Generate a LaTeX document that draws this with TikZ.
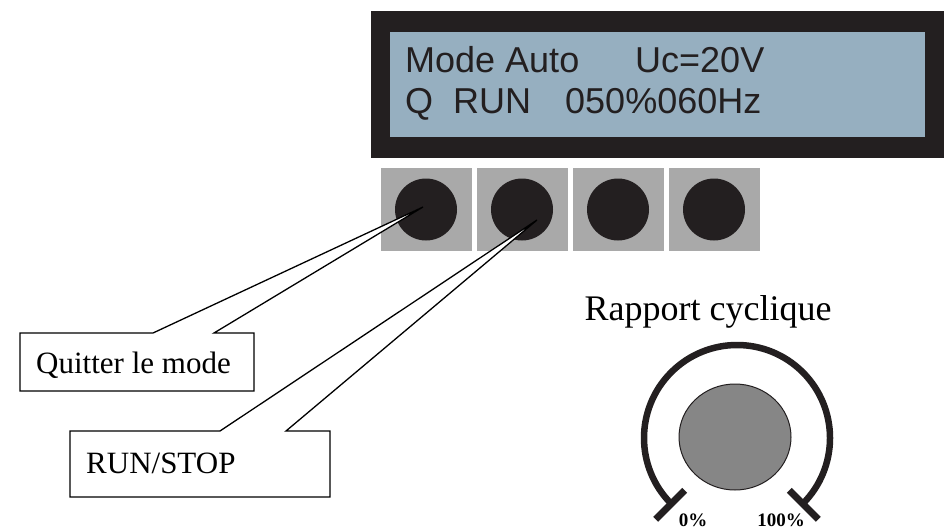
\documentclass[tikz,border=0pt]{standalone}
\usepackage{fontspec}
\setmainfont{Liberation Serif}
\newfontfamily\lcdfont{Liberation Sans}
\usetikzlibrary{positioning,calc,shapes.geometric}

\definecolor{lcdblack}{RGB}{35,31,32}
\definecolor{lcdblue}{RGB}{150,175,192}
\definecolor{keygrey}{RGB}{169,169,169}
\definecolor{knobgrey}{RGB}{134,134,134}

\tikzset{
  lcdtxt/.style={anchor=base west, inner sep=0pt, text=lcdblack,
    font=\lcdfont\fontsize{36}{36}\selectfont},
  keypad/.style={fill=keygrey, minimum width=91pt, minimum height=83pt, inner sep=0pt},
  keyknob/.style={circle, fill=lcdblack, minimum size=62pt, inner sep=0pt},
  callout/.style={draw=black, fill=white, line width=1.3pt, line join=miter},
  calltxt/.style={anchor=base west, inner sep=0pt, font=\fontsize{31}{31}\selectfont},
  pcttxt/.style={anchor=base, inner sep=0pt, font=\bfseries\fontsize{19}{19}\selectfont},
}

\begin{document}
\begin{tikzpicture}[x=1pt, y=-1pt]
  \useasboundingbox (0,0) rectangle (944,530);

  % afficheur LCD
  \fill[lcdblack] (371,11) rectangle (944,158);
  \fill[lcdblue] (390,32) rectangle (925,137);
  \node[lcdtxt] (mode) at (405,72) {Mode Auto};
  \node[lcdtxt] (uc) at (635,72) {Uc=20V};
  \node[lcdtxt] (q) at (405,113) {Q};
  \node[lcdtxt] (run) at (453,113) {RUN};
  \node[lcdtxt] (freq) at (565,113) {050\%060Hz};

  % boutons
  \foreach \i in {1,...,4} {
    \node[keypad] (pad\i) at (330+96*\i, 209.5) {};
    \node[keyknob] (key\i) at (pad\i) {};
  }

  % bulles
  \coordinate (tipq) at ($(key1)+(-3,-2.5)$);
  \coordinate (tipr) at ($(key2)+(15,10.5)$);
  \filldraw[callout] (20,391) -- (20,333) -- (153,333) -- (tipq) -- (214,333)
    -- (254,333) -- (254,391) -- cycle;
  \node[calltxt] (quit) at (36,373) {Quitter le mode};
  \filldraw[callout] (70,497) -- (70,431) -- (220,431) -- (tipr) -- (286,431)
    -- (330,431) -- (330,497) -- cycle;
  \node[calltxt] (runstop) at (86,473) {RUN/STOP};

  % potentiometre
  \node[anchor=base, inner sep=0pt, font=\fontsize{36}{36}\selectfont] (rapport) at (708,320) {Rapport cyclique};
  \coordinate (dial) at (737,438);
  \draw[lcdblack, line width=6.5pt] ($(dial)+(135:93)$) arc[start angle=135, end angle=405, radius=93];
  \draw[lcdblack, line width=7pt] ($(dial)+(135:74)$) -- ($(dial)+(135:115)$);
  \draw[lcdblack, line width=7pt] ($(dial)+(45:74)$) -- ($(dial)+(45:115)$);
  \node[ellipse, draw=lcdblack, fill=knobgrey, line width=1pt, minimum width=112pt,
    minimum height=106pt, inner sep=0pt] (knob) at ($(dial)+(-2,-1)$) {};
  \node[pcttxt] (zero) at (693,526) {0\%};
  \node[pcttxt] (cent) at (781,526) {100\%};
\end{tikzpicture}
\end{document}
